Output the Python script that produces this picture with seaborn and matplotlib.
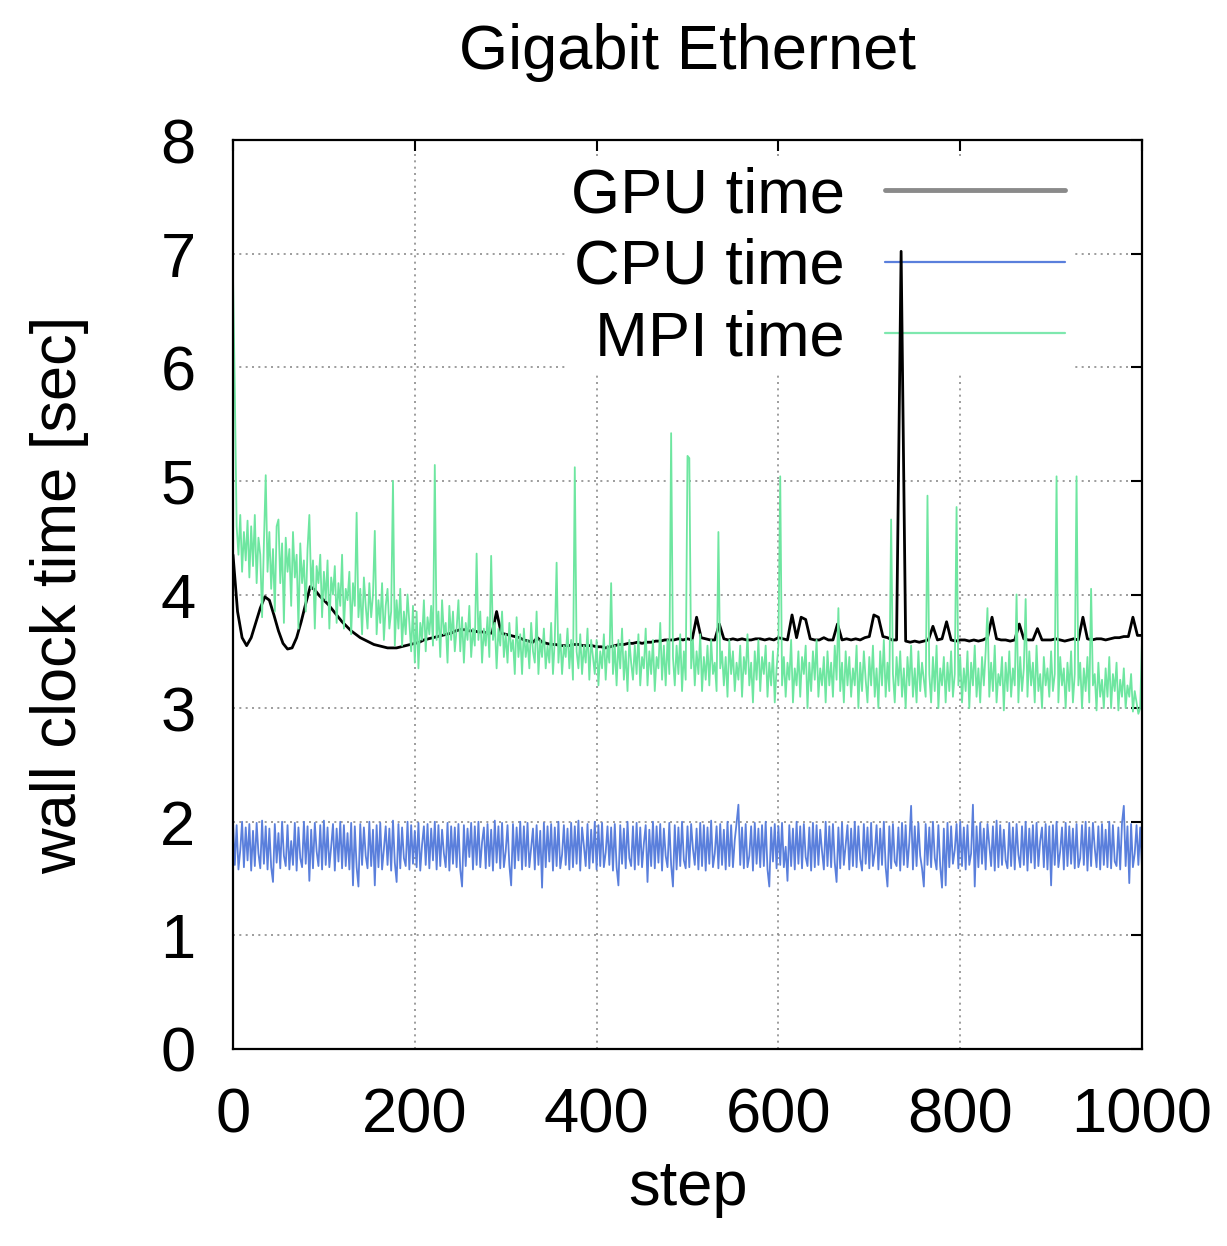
import numpy as np
import pandas as pd
import matplotlib
matplotlib.use("Agg")
import matplotlib.pyplot as plt
from matplotlib.lines import Line2D
import seaborn as sns

# ---------------- data ----------------
gpu_steps = list(range(0, 1001, 5))
fine_steps = list(range(0, 1001, 2))

gpu_time = [
    4.35, 3.85, 3.62, 3.55, 3.62, 3.75, 3.88, 3.98, 3.95, 3.82,
    3.68, 3.57, 3.52, 3.53, 3.62, 3.76, 3.92, 4.07, 4.04, 3.99,
    3.95, 3.91, 3.86, 3.81, 3.76, 3.72, 3.68, 3.65, 3.62, 3.60,
    3.58, 3.56, 3.55, 3.54, 3.53, 3.53, 3.53, 3.54, 3.55, 3.56,
    3.57, 3.58, 3.60, 3.61, 3.62, 3.63, 3.64, 3.65, 3.66, 3.68,
    3.69, 3.69, 3.68, 3.68, 3.67, 3.67, 3.66, 3.66, 3.85, 3.66,
    3.65, 3.64, 3.63, 3.62, 3.60, 3.59, 3.58, 3.62, 3.58, 3.57,
    3.56, 3.56, 3.55, 3.55, 3.55, 3.56, 3.56, 3.55, 3.55, 3.55,
    3.54, 3.54, 3.53, 3.54, 3.55, 3.56, 3.56, 3.57, 3.57, 3.58,
    3.57, 3.58, 3.58, 3.59, 3.59, 3.60, 3.60, 3.60, 3.61, 3.60,
    3.61, 3.60, 3.80, 3.62, 3.61, 3.60, 3.60, 3.74, 3.61, 3.60,
    3.61, 3.60, 3.61, 3.60, 3.60, 3.61, 3.61, 3.60, 3.61, 3.60,
    3.62, 3.61, 3.60, 3.82, 3.62, 3.80, 3.78, 3.61, 3.60, 3.60,
    3.62, 3.60, 3.60, 3.74, 3.60, 3.61, 3.60, 3.61, 3.60, 3.62,
    3.63, 3.82, 3.80, 3.63, 3.62, 3.60, 3.60, 7.02, 3.59, 3.58,
    3.59, 3.58, 3.59, 3.60, 3.72, 3.60, 3.61, 3.76, 3.60, 3.59,
    3.60, 3.60, 3.59, 3.60, 3.59, 3.60, 3.62, 3.80, 3.61, 3.60,
    3.60, 3.59, 3.60, 3.74, 3.61, 3.60, 3.60, 3.70, 3.60, 3.60,
    3.60, 3.61, 3.60, 3.59, 3.60, 3.61, 3.60, 3.80, 3.61, 3.60,
    3.61, 3.61, 3.60, 3.61, 3.62, 3.62, 3.63, 3.63, 3.80, 3.64,
    3.64,
]

cpu_time = [
    1.99, 1.62, 1.97, 1.58, 1.75, 2.00, 1.60, 1.95, 1.66, 1.98,
    1.57, 1.92, 1.61, 1.99, 1.72, 1.59, 2.01, 1.63, 1.96, 1.58,
    1.94, 1.60, 1.47, 1.98, 1.64, 1.90, 1.59, 2.00, 1.70, 1.61,
    1.97, 1.58, 1.83, 1.62, 1.99, 1.57, 1.95, 1.68, 1.60, 2.00,
    1.63, 1.96, 1.48, 1.93, 1.59, 1.99, 1.74, 1.61, 1.97, 1.58,
    2.01, 1.62, 1.95, 1.60, 1.78, 1.98, 1.57, 1.94, 1.65, 2.00,
    1.59, 1.97, 1.61, 1.90, 1.58, 1.99, 1.44, 1.96, 1.60, 1.43,
    1.98, 1.62, 1.95, 1.70, 1.59, 2.00, 1.61, 1.93, 1.44, 1.97,
    1.60, 1.99, 1.58, 1.76, 1.96, 1.62, 1.94, 1.57, 2.01, 1.64,
    1.47, 1.98, 1.59, 1.95, 1.68, 1.61, 2.00, 1.58, 1.97, 1.63,
    1.92, 1.60, 1.99, 1.57, 1.80, 1.96, 1.62, 1.98, 1.59, 1.94,
    1.66, 2.00, 1.58, 1.97, 1.61, 1.93, 1.72, 1.60, 1.99, 1.57,
    1.96, 1.63, 1.95, 1.60, 1.98, 1.58, 1.43, 1.97, 1.61, 1.94,
    1.69, 1.99, 1.58, 1.96, 1.62, 2.00, 1.60, 1.82, 1.95, 1.59,
    1.98, 1.61, 1.93, 1.57, 2.01, 1.64, 1.96, 1.59, 1.99, 1.60,
    1.74, 1.97, 1.62, 1.44, 1.98, 1.59, 1.95, 1.66, 2.00, 1.58,
    1.96, 1.61, 1.99, 1.60, 1.77, 1.94, 1.58, 1.97, 1.62, 1.92,
    1.42, 1.99, 1.60, 1.96, 1.65, 1.98, 1.57, 1.95, 1.61, 2.00,
    1.59, 1.71, 1.97, 1.62, 1.94, 1.58, 1.99, 1.60, 1.96, 1.63,
    2.01, 1.57, 1.95, 1.79, 1.61, 1.98, 1.59, 1.93, 1.64, 2.00,
    1.58, 1.97, 1.61, 1.99, 1.60, 1.73, 1.96, 1.62, 1.95, 1.57,
    1.98, 1.60, 1.44, 1.97, 1.63, 1.94, 1.59, 2.00, 1.68, 1.61,
    1.96, 1.58, 1.99, 1.62, 1.95, 1.60, 1.81, 1.97, 1.47, 1.93,
    1.61, 2.00, 1.59, 1.96, 1.64, 1.98, 1.57, 1.94, 1.70, 1.60,
    1.99, 1.62, 1.43, 1.97, 1.58, 1.95, 1.61, 2.00, 1.66, 1.59,
    1.96, 1.60, 1.98, 1.76, 1.62, 1.94, 1.58, 1.99, 1.61, 1.97,
    1.57, 1.95, 1.63, 2.01, 1.60, 1.72, 1.96, 1.59, 1.98, 1.62,
    1.93, 1.58, 2.00, 1.61, 1.97, 1.60, 1.84, 1.99, 2.15, 1.62,
    1.95, 1.59, 1.98, 1.60, 1.70, 1.96, 1.57, 1.99, 1.63, 1.94,
    1.60, 1.97, 1.61, 2.00, 1.58, 1.43, 1.95, 1.65, 1.98, 1.59,
    1.96, 1.62, 1.99, 1.60, 1.78, 1.48, 1.97, 1.61, 1.94, 1.58,
    2.00, 1.63, 1.96, 1.59, 1.98, 1.69, 1.61, 1.95, 1.57, 1.99,
    1.60, 1.97, 1.62, 1.93, 1.74, 1.58, 2.00, 1.61, 1.96, 1.60,
    1.98, 1.64, 1.47, 1.95, 1.59, 1.99, 1.62, 1.80, 1.97, 1.58,
    1.94, 1.61, 2.00, 1.60, 1.96, 1.67, 1.57, 1.98, 1.63, 1.95,
    1.59, 1.99, 1.61, 1.73, 1.97, 1.58, 1.94, 1.62, 2.00, 1.60,
    1.43, 1.96, 1.59, 1.98, 1.65, 1.61, 1.95, 1.57, 1.99, 1.62,
    1.97, 1.60, 1.82, 2.14, 1.58, 1.96, 1.61, 1.99, 1.70, 1.59,
    1.43, 1.98, 1.62, 1.95, 1.60, 2.00, 1.68, 1.58, 1.97, 1.61,
    1.42, 1.94, 1.44, 1.99, 1.60, 1.96, 1.63, 1.75, 1.98, 1.59,
    2.00, 1.61, 1.95, 1.58, 1.97, 1.62, 1.72, 2.15, 1.43, 1.96,
    1.60, 1.99, 1.63, 1.94, 1.58, 1.98, 1.79, 1.61, 1.96, 1.57,
    2.01, 1.60, 1.97, 1.62, 1.93, 1.66, 1.59, 1.99, 1.61, 1.95,
    1.58, 1.98, 1.71, 1.60, 1.96, 1.62, 2.00, 1.57, 1.94, 1.64,
    1.97, 1.59, 1.99, 1.61, 1.83, 1.95, 1.60, 1.98, 1.58, 1.96,
    1.44, 1.97, 1.62, 2.00, 1.60, 1.74, 1.95, 1.58, 1.99, 1.61,
    1.96, 1.63, 1.94, 1.59, 1.98, 1.60, 1.68, 1.97, 1.62, 2.00,
    1.57, 1.95, 1.61, 1.99, 1.77, 1.60, 1.96, 1.58, 1.98, 1.62,
    1.93, 1.60, 2.00, 1.59, 1.97, 1.65, 1.61, 1.95, 1.58, 1.99,
    2.14, 1.61, 1.96, 1.46, 1.98, 1.60, 1.72, 1.97, 1.62, 1.95,
    1.60,
]

mpi_time = [
    6.80, 5.80, 4.60, 4.35, 4.70, 4.20, 4.55, 4.30, 4.65, 4.15,
    4.60, 4.25, 4.70, 4.10, 4.50, 4.35, 3.80, 4.45, 5.05, 4.20,
    4.55, 4.05, 4.40, 3.85, 4.60, 4.66, 4.10, 4.45, 3.75, 4.50,
    4.20, 4.40, 3.90, 4.55, 4.15, 4.35, 3.70, 4.45, 4.10, 4.30,
    3.85, 4.40, 4.70, 4.05, 4.30, 3.70, 4.25, 4.10, 4.35, 3.80,
    4.20, 3.95, 4.30, 3.70, 4.15, 4.00, 4.25, 3.75, 4.10, 3.90,
    4.35, 3.70, 4.05, 3.95, 4.20, 3.65, 4.10, 3.90, 4.72, 3.80,
    4.05, 3.65, 4.15, 3.90, 3.70, 4.10, 3.80, 4.00, 4.56, 3.65,
    3.95, 3.75, 4.10, 3.60, 3.90, 4.05, 3.70, 3.85, 5.00, 3.55,
    3.95, 3.70, 4.05, 3.55, 3.85, 3.65, 4.00, 3.75, 3.50, 3.90,
    3.40, 3.85, 3.35, 3.75, 3.60, 3.95, 3.50, 3.80, 3.65, 3.90,
    3.55, 5.14, 3.60, 3.85, 3.45, 3.95, 3.65, 3.75, 3.40, 3.90,
    3.60, 3.85, 3.50, 3.70, 3.95, 3.50, 3.80, 3.40, 3.75, 3.60,
    3.90, 3.45, 3.70, 3.55, 4.36, 3.60, 3.85, 3.40, 3.70, 3.55,
    3.80, 3.45, 4.34, 3.60, 3.75, 3.35, 3.70, 3.55, 3.85, 3.45,
    3.65, 3.40, 3.75, 3.50, 3.60, 3.30, 3.80, 3.45, 3.65, 3.30,
    3.70, 3.45, 3.60, 3.35, 3.75, 3.50, 3.40, 3.85, 3.30, 3.60,
    3.45, 3.70, 3.35, 3.55, 3.40, 3.75, 3.30, 3.60, 4.28, 3.40,
    3.65, 3.30, 3.55, 3.45, 3.70, 3.35, 3.60, 3.25, 5.12, 3.50,
    3.35, 3.65, 3.30, 3.55, 3.40, 3.70, 3.25, 3.60, 3.45, 3.30,
    3.60, 3.20, 3.50, 3.35, 3.65, 3.25, 3.55, 3.40, 4.10, 3.30,
    3.55, 3.20, 3.60, 3.35, 3.70, 3.25, 3.50, 3.15, 3.60, 3.40,
    3.25, 3.55, 3.30, 3.65, 3.20, 3.45, 3.35, 3.70, 3.20, 3.50,
    3.30, 3.60, 3.15, 3.45, 3.35, 3.75, 3.25, 3.55, 3.20, 3.60,
    3.30, 5.42, 3.45, 3.20, 3.55, 3.30, 3.65, 3.15, 3.50, 3.25,
    5.22, 5.20, 3.35, 3.60, 3.20, 3.50, 3.30, 3.65, 3.15, 3.45,
    3.25, 3.55, 3.20, 3.60, 3.30, 3.40, 3.15, 4.55, 3.35, 3.50,
    3.20, 3.45, 3.10, 3.60, 3.30, 3.50, 3.15, 3.40, 3.25, 3.55,
    3.10, 3.45, 3.30, 3.65, 3.20, 3.40, 3.05, 3.50, 3.25, 3.60,
    3.15, 3.45, 3.30, 3.55, 3.10, 3.40, 3.20, 3.50, 3.05, 3.35,
    3.55, 5.04, 3.20, 3.45, 3.10, 3.40, 3.25, 3.60, 3.05, 3.35,
    3.20, 3.50, 3.10, 3.45, 3.30, 3.55, 3.00, 3.40, 3.15, 3.50,
    3.25, 3.60, 3.10, 3.35, 3.20, 3.45, 3.05, 3.50, 3.20, 3.40,
    3.10, 3.55, 3.25, 3.88, 3.15, 3.40, 3.05, 3.50, 3.20, 3.45,
    3.10, 3.35, 3.20, 3.55, 3.00, 3.40, 3.15, 3.50, 3.25, 3.05,
    3.45, 3.20, 3.55, 3.10, 3.35, 3.00, 3.50, 3.20, 3.60, 3.10,
    3.40, 3.15, 4.66, 3.30, 3.05, 3.45, 3.20, 3.50, 3.10, 3.35,
    3.00, 3.45, 3.20, 3.55, 3.10, 3.35, 3.05, 3.50, 3.15, 3.40,
    3.25, 3.10, 4.87, 3.30, 3.05, 3.45, 3.15, 3.55, 3.00, 3.35,
    3.20, 3.45, 3.05, 3.40, 3.15, 3.50, 3.10, 3.30, 4.77, 3.20,
    3.45, 3.05, 3.35, 3.15, 3.50, 3.00, 3.40, 3.20, 3.55, 3.10,
    3.35, 3.05, 3.45, 3.20, 3.50, 3.88, 3.10, 3.40, 3.15, 3.55,
    3.05, 3.30, 3.20, 3.45, 2.98, 3.40, 3.15, 3.50, 3.10, 3.35,
    3.20, 4.00, 3.05, 3.45, 3.15, 3.35, 3.96, 3.10, 3.50, 3.20,
    3.40, 3.05, 3.55, 3.15, 3.30, 3.00, 3.45, 3.20, 3.35, 3.10,
    3.50, 3.15, 3.30, 5.04, 3.05, 3.45, 3.20, 3.35, 3.00, 3.40,
    3.15, 3.50, 3.05, 3.30, 5.04, 3.20, 3.40, 3.00, 3.35, 3.15,
    3.45, 3.05, 4.05, 3.20, 3.30, 2.98, 3.40, 3.10, 3.25, 3.00,
    3.35, 3.10, 3.45, 3.00, 3.30, 3.15, 3.40, 2.98, 3.25, 3.10,
    3.35, 3.00, 3.20, 3.10, 3.30, 2.97, 3.15, 3.05, 2.95, 3.00,
    3.60,
]

series_names = ["GPU time", "CPU time", "MPI time"]
series_colors = ["#000000", "#5a7fdc", "#6ee6a0"]
series_widths = [2.0, 1.3, 1.3]
legend_colors = ["#8a8a8a", "#5a7fdc", "#7ee8ae"]
legend_widths = [3.5, 1.6, 1.6]

x_ticks = [0, 200, 400, 600, 800, 1000]
y_ticks = [0, 1, 2, 3, 4, 5, 6, 7, 8]

title_text = "Gigabit Ethernet"
x_label = "step"
y_label = "wall clock time [sec]"

# ---------------- styling ----------------
sns.set_style("white")
plt.rcParams["font.family"] = ["Liberation Sans", "DejaVu Sans"]
plt.rcParams["text.color"] = "black"
plt.rcParams["axes.labelcolor"] = "black"
FS = 45.5

frames = [
    pd.DataFrame({"step": st, "time": vals, "series": name})
    for name, st, vals in zip(series_names,
                              [gpu_steps, fine_steps, fine_steps],
                              [gpu_time, cpu_time, mpi_time])
]

fig = plt.figure(figsize=(12.27, 12.46), dpi=100)
ax = fig.add_axes([233 / 1227, 1 - 1049 / 1246, 909 / 1227, 909 / 1246])

for frame, color, lw in zip(frames, series_colors, series_widths):
    sns.lineplot(data=frame, x="step", y="time", color=color, linewidth=lw,
                 estimator=None, sort=False, legend=False, ax=ax)

ax.set_xlim(0, 1000)
ax.set_ylim(0, 8)
ax.set_xticks(x_ticks)
ax.set_yticks(y_ticks)
ax.set_axisbelow(True)
ax.grid(True, color="#8c8c8c", linestyle=(0, (1.2, 2.6)), linewidth=1.2)

for sp in ax.spines.values():
    sp.set_visible(True)
    sp.set_color("black")
    sp.set_linewidth(1.6)

ax.tick_params(axis="both", which="major", direction="in", length=8, width=1.5,
               top=True, right=True, labelsize=FS, colors="black")
ax.tick_params(axis="y", pad=27)
ax.tick_params(axis="x", pad=27)

ax.set_xlabel(x_label, fontsize=FS)
ax.set_ylabel(y_label, fontsize=FS)
ax.xaxis.set_label_coords(0.5, -0.121)
ax.yaxis.set_label_coords(-0.158, 0.5)
ax.set_title(title_text, fontsize=FS, pad=51)

handles = [Line2D([0], [0], color=c, linewidth=w) for c, w in zip(legend_colors, legend_widths)]
leg = ax.legend(
    handles, series_names, loc="upper right", bbox_to_anchor=(0.922, 0.978),
    fontsize=FS, markerfirst=False, frameon=True, facecolor="white",
    edgecolor="none", framealpha=1.0, fancybox=False, handlelength=2.85,
    handletextpad=0.63, labelspacing=0.2, borderpad=0.1, borderaxespad=0.0,
)
leg.set_zorder(1)

fig.savefig("out.png", dpi=100)
